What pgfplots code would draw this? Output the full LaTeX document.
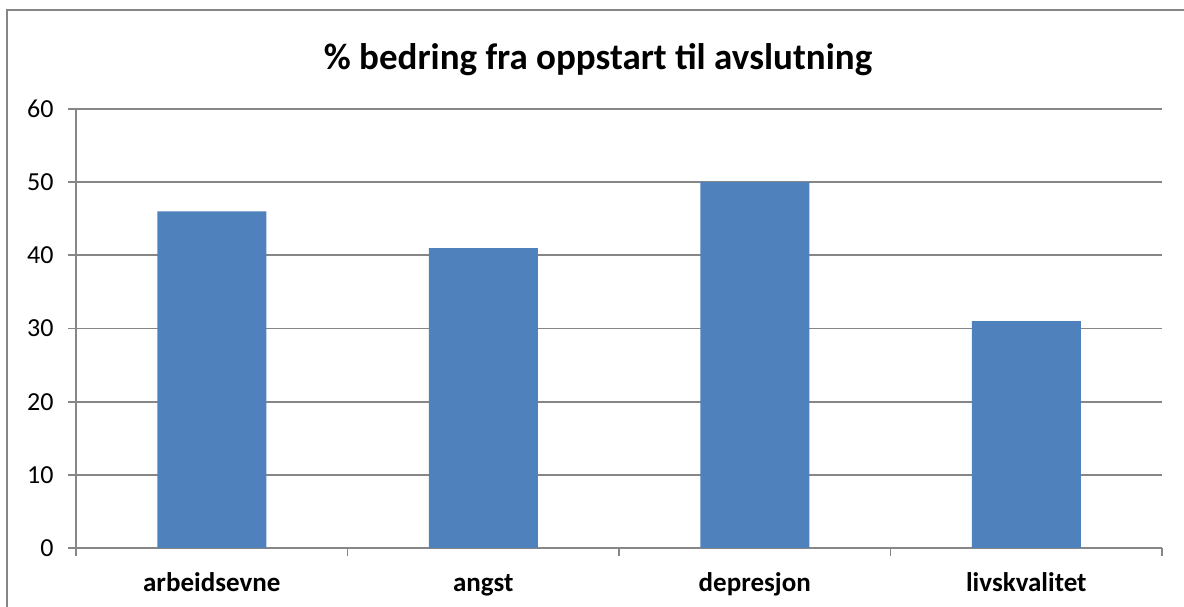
\documentclass[border=0pt]{standalone}
\usepackage{fontspec}
\setmainfont{Carlito}
\usepackage{pgfplots}
\pgfplotsset{compat=1.18}
\definecolor{barblue}{RGB}{79,129,189}
\definecolor{gridgray}{RGB}{134,134,134}
\begin{document}
\begin{tikzpicture}[x=1pt,y=1pt]
\useasboundingbox (0,0) rectangle (1184,607);
\draw[gridgray, line width=2pt] (7,-2) -- (7,597) -- (1186,597);
\node[font=\fontsize{37}{42}\selectfont\bfseries, anchor=base] at (598,537) {\% bedring fra oppstart til avslutning};
\begin{axis}[
  at={(76pt,59pt)}, anchor=south west,
  scale only axis, width=1086pt, height=439pt,
  xmin=-0.5, xmax=3.5, ymin=0, ymax=60,
  ytick={0,10,...,60},
  xtick={0,1,2,3},
  xticklabels={arbeidsevne,angst,depresjon,livskvalitet},
  minor xtick={-0.5,0.5,1.5,2.5,3.5},
  axis lines=left,
  axis line style={-, gridgray, line width=1.8pt},
  tick align=outside,
  tick pos=lower,
  major tick length=8pt,
  minor tick length=8pt,
  x tick style={draw=none},
  minor x tick style={draw=gridgray, line width=1.8pt},
  y tick style={gridgray, line width=1.8pt},
  ymajorgrids,
  major grid style={gridgray, line width=1.8pt},
  yticklabel style={font=\fontsize{26}{30}\selectfont, xshift=-11pt},
  xticklabel style={font=\fontsize{27}{32}\selectfont\bfseries, text height=19pt, text depth=6pt, yshift=-13pt},
  /pgf/number format/assume math mode=true,
  ybar, bar width=109pt,
]
\addplot[fill=barblue, draw=none] coordinates {(0,46) (1,41) (2,50) (3,31)};
\end{axis}
\end{tikzpicture}
\end{document}
